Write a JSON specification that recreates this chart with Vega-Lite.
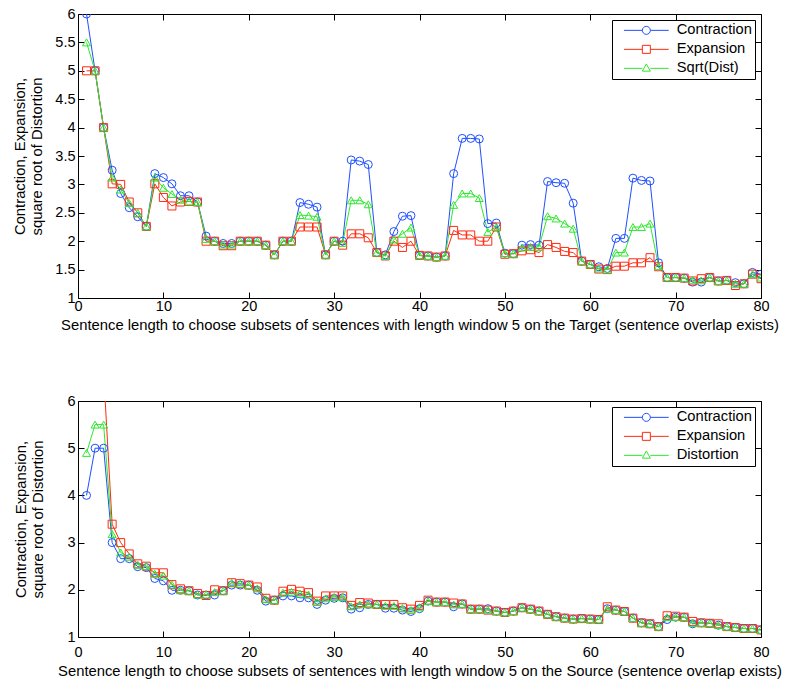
{
  "$schema": "https://vega.github.io/schema/vega-lite/v6.json",
  "background": "white",
  "padding": {"left": 12, "top": 5, "right": 0, "bottom": 0},
  "bounds": "flush",
  "spacing": 103,
  "config": {
    "font": "Liberation Sans",
    "view": {"stroke": "black", "strokeWidth": 1},
    "axis": {
      "grid": false,
      "domain": false,
      "tickColor": "black",
      "tickSize": -6,
      "tickWidth": 1,
      "labelPadding": 9,
      "labelFont": "Liberation Sans",
      "labelFontSize": 14.5,
      "labelColor": "black",
      "labelFlush": false,
      "labelOverlap": false,
      "labelBound": false,
      "titleFont": "Liberation Sans",
      "titleFontSize": 14.8,
      "titleFontWeight": "normal",
      "titleColor": "black",
      "titleLineHeight": 17
    },
    "legend": {
      "orient": "top-right",
      "offset": 6,
      "strokeColor": "black",
      "fillColor": "white",
      "padding": 3,
      "rowPadding": 3,
      "symbolSize": 64,
      "symbolOffset": 24,
      "labelOffset": 23,
      "labelFont": "Liberation Sans",
      "labelFontSize": 14.7,
      "labelColor": "black",
      "title": null
    }
  },
  "resolve": {
    "scale": {"color": "independent", "shape": "independent"},
    "legend": {"color": "independent", "shape": "independent"}
  },
  "vconcat": [
    {
      "width": 683,
      "height": 284,
      "data": {"values": [
        {"x":1,"Contraction":6.0,"Expansion":5.0,"Sqrt(Dist)":5.5},
        {"x":2,"Contraction":5.0,"Expansion":5.0,"Sqrt(Dist)":5.0},
        {"x":3,"Contraction":4.0,"Expansion":4.0,"Sqrt(Dist)":4.0},
        {"x":4,"Contraction":3.25,"Expansion":3.01,"Sqrt(Dist)":3.12},
        {"x":5,"Contraction":2.84,"Expansion":3.0,"Sqrt(Dist)":2.91},
        {"x":6,"Contraction":2.59,"Expansion":2.69,"Sqrt(Dist)":2.67},
        {"x":7,"Contraction":2.43,"Expansion":2.5,"Sqrt(Dist)":2.5},
        {"x":8,"Contraction":2.26,"Expansion":2.26,"Sqrt(Dist)":2.26},
        {"x":9,"Contraction":3.19,"Expansion":3.01,"Sqrt(Dist)":3.12},
        {"x":10,"Contraction":3.12,"Expansion":2.77,"Sqrt(Dist)":2.94},
        {"x":11,"Contraction":3.01,"Expansion":2.62,"Sqrt(Dist)":2.83},
        {"x":12,"Contraction":2.8,"Expansion":2.69,"Sqrt(Dist)":2.73},
        {"x":13,"Contraction":2.8,"Expansion":2.7,"Sqrt(Dist)":2.7},
        {"x":14,"Contraction":2.69,"Expansion":2.69,"Sqrt(Dist)":2.69},
        {"x":15,"Contraction":2.09,"Expansion":2.0,"Sqrt(Dist)":2.04},
        {"x":16,"Contraction":2.0,"Expansion":2.0,"Sqrt(Dist)":2.0},
        {"x":17,"Contraction":1.96,"Expansion":1.92,"Sqrt(Dist)":1.94},
        {"x":18,"Contraction":1.96,"Expansion":1.92,"Sqrt(Dist)":1.94},
        {"x":19,"Contraction":2.0,"Expansion":2.0,"Sqrt(Dist)":2.0},
        {"x":20,"Contraction":2.0,"Expansion":2.0,"Sqrt(Dist)":2.0},
        {"x":21,"Contraction":2.0,"Expansion":2.0,"Sqrt(Dist)":2.0},
        {"x":22,"Contraction":1.93,"Expansion":1.93,"Sqrt(Dist)":1.93},
        {"x":23,"Contraction":1.76,"Expansion":1.76,"Sqrt(Dist)":1.76},
        {"x":24,"Contraction":2.0,"Expansion":2.0,"Sqrt(Dist)":2.0},
        {"x":25,"Contraction":2.0,"Expansion":2.0,"Sqrt(Dist)":2.0},
        {"x":26,"Contraction":2.68,"Expansion":2.25,"Sqrt(Dist)":2.46},
        {"x":27,"Contraction":2.65,"Expansion":2.25,"Sqrt(Dist)":2.45},
        {"x":28,"Contraction":2.6,"Expansion":2.25,"Sqrt(Dist)":2.43},
        {"x":29,"Contraction":1.76,"Expansion":1.76,"Sqrt(Dist)":1.76},
        {"x":30,"Contraction":2.0,"Expansion":2.0,"Sqrt(Dist)":2.0},
        {"x":31,"Contraction":2.0,"Expansion":1.93,"Sqrt(Dist)":1.97},
        {"x":32,"Contraction":3.43,"Expansion":2.13,"Sqrt(Dist)":2.72},
        {"x":33,"Contraction":3.41,"Expansion":2.13,"Sqrt(Dist)":2.72},
        {"x":34,"Contraction":3.35,"Expansion":2.06,"Sqrt(Dist)":2.65},
        {"x":35,"Contraction":1.8,"Expansion":1.8,"Sqrt(Dist)":1.8},
        {"x":36,"Contraction":1.76,"Expansion":1.74,"Sqrt(Dist)":1.74},
        {"x":37,"Contraction":2.17,"Expansion":2.0,"Sqrt(Dist)":2.03},
        {"x":38,"Contraction":2.44,"Expansion":1.89,"Sqrt(Dist)":2.13},
        {"x":39,"Contraction":2.45,"Expansion":2.0,"Sqrt(Dist)":2.24},
        {"x":40,"Contraction":1.75,"Expansion":1.75,"Sqrt(Dist)":1.75},
        {"x":41,"Contraction":1.74,"Expansion":1.74,"Sqrt(Dist)":1.74},
        {"x":42,"Contraction":1.72,"Expansion":1.72,"Sqrt(Dist)":1.72},
        {"x":43,"Contraction":1.74,"Expansion":1.74,"Sqrt(Dist)":1.74},
        {"x":44,"Contraction":3.19,"Expansion":2.19,"Sqrt(Dist)":2.64},
        {"x":45,"Contraction":3.81,"Expansion":2.11,"Sqrt(Dist)":2.84},
        {"x":46,"Contraction":3.81,"Expansion":2.11,"Sqrt(Dist)":2.84},
        {"x":47,"Contraction":3.8,"Expansion":2.0,"Sqrt(Dist)":2.76},
        {"x":48,"Contraction":2.31,"Expansion":2.0,"Sqrt(Dist)":2.16},
        {"x":49,"Contraction":2.32,"Expansion":2.25,"Sqrt(Dist)":2.25},
        {"x":50,"Contraction":1.79,"Expansion":1.77,"Sqrt(Dist)":1.79},
        {"x":51,"Contraction":1.78,"Expansion":1.78,"Sqrt(Dist)":1.78},
        {"x":52,"Contraction":1.93,"Expansion":1.83,"Sqrt(Dist)":1.89},
        {"x":53,"Contraction":1.94,"Expansion":1.85,"Sqrt(Dist)":1.9},
        {"x":54,"Contraction":1.93,"Expansion":1.8,"Sqrt(Dist)":1.9},
        {"x":55,"Contraction":3.05,"Expansion":1.94,"Sqrt(Dist)":2.44},
        {"x":56,"Contraction":3.03,"Expansion":1.89,"Sqrt(Dist)":2.4},
        {"x":57,"Contraction":3.02,"Expansion":1.82,"Sqrt(Dist)":2.31},
        {"x":58,"Contraction":2.67,"Expansion":1.8,"Sqrt(Dist)":2.22},
        {"x":59,"Contraction":1.65,"Expansion":1.65,"Sqrt(Dist)":1.65},
        {"x":60,"Contraction":1.59,"Expansion":1.59,"Sqrt(Dist)":1.59},
        {"x":61,"Contraction":1.55,"Expansion":1.51,"Sqrt(Dist)":1.52},
        {"x":62,"Contraction":1.52,"Expansion":1.5,"Sqrt(Dist)":1.5},
        {"x":63,"Contraction":2.05,"Expansion":1.56,"Sqrt(Dist)":1.8},
        {"x":64,"Contraction":2.05,"Expansion":1.56,"Sqrt(Dist)":1.8},
        {"x":65,"Contraction":3.11,"Expansion":1.62,"Sqrt(Dist)":2.25},
        {"x":66,"Contraction":3.07,"Expansion":1.62,"Sqrt(Dist)":2.25},
        {"x":67,"Contraction":3.06,"Expansion":1.71,"Sqrt(Dist)":2.31},
        {"x":68,"Contraction":1.62,"Expansion":1.55,"Sqrt(Dist)":1.56},
        {"x":69,"Contraction":1.36,"Expansion":1.36,"Sqrt(Dist)":1.36},
        {"x":70,"Contraction":1.36,"Expansion":1.36,"Sqrt(Dist)":1.36},
        {"x":71,"Contraction":1.35,"Expansion":1.35,"Sqrt(Dist)":1.35},
        {"x":72,"Contraction":1.28,"Expansion":1.3,"Sqrt(Dist)":1.32},
        {"x":73,"Contraction":1.28,"Expansion":1.34,"Sqrt(Dist)":1.31},
        {"x":74,"Contraction":1.36,"Expansion":1.36,"Sqrt(Dist)":1.36},
        {"x":75,"Contraction":1.3,"Expansion":1.3,"Sqrt(Dist)":1.3},
        {"x":76,"Contraction":1.31,"Expansion":1.31,"Sqrt(Dist)":1.31},
        {"x":77,"Contraction":1.27,"Expansion":1.22,"Sqrt(Dist)":1.25},
        {"x":78,"Contraction":1.25,"Expansion":1.25,"Sqrt(Dist)":1.25},
        {"x":79,"Contraction":1.45,"Expansion":1.42,"Sqrt(Dist)":1.42},
        {"x":80,"Contraction":1.42,"Expansion":1.34,"Sqrt(Dist)":1.36}
      ]},
      "transform": [{"fold": ["Contraction", "Expansion", "Sqrt(Dist)"], "as": ["series", "value"]}],
      "encoding": {
        "x": {"field": "x", "type": "quantitative", "scale": {"domain": [0, 80], "nice": false, "zero": false}},
        "y": {"field": "value", "type": "quantitative", "scale": {"domain": [1, 6], "nice": false, "zero": false}},
        "color": {
          "field": "series", "type": "nominal",
          "scale": {"domain": ["Contraction", "Expansion", "Sqrt(Dist)"], "range": ["#1f4fff", "#ff2a10", "#2ee82e"]},
          "legend": {
            "title": null,
            "encode": {"symbols": {"update": {
              "shape": {"signal": "datum.value === 'Contraction' ? 'M-5.6,0L-1,0M1,0L5.6,0M-1,0A1,1,0,1,1,1,0A1,1,0,1,1,-1,0Z' : datum.value === 'Expansion' ? 'M-5.6,0L-1,0M1,0L5.6,0M-1,-1L1,-1L1,1L-1,1Z' : 'M-5.6,0L-1,0M1,0L5.6,0M0,-1.1L1,0.7L-1,0.7Z'"},
              "fill": {"value": "transparent"},
              "strokeWidth": {"value": 1},
              "opacity": {"value": 1}
            }}}
          }
        }
      },
      "layer": [
        {
          "mark": {"type": "line", "strokeWidth": 1, "clip": true},
          "encoding": {
            "x": {"field": "x", "type": "quantitative", "axis": {"orient": "bottom", "values": [0,10,20,30,40,50,60,70,80], "labelPadding": 7, "title": "Sentence length to choose subsets of sentences with length window 5 on the Target (sentence overlap exists)", "titlePadding": 5}},
            "y": {"field": "value", "type": "quantitative", "axis": {"orient": "left", "values": [1,1.5,2,2.5,3,3.5,4,4.5,5,5.5,6], "format": "~g", "title": ["Contraction, Expansion,", "square root of Distortion"], "titlePadding": 10}}
          }
        },
        {
          "mark": {"type": "point", "filled": false, "size": 64, "strokeWidth": 1, "opacity": 1, "clip": true},
          "encoding": {
            "shape": {"field": "series", "type": "nominal", "scale": {"domain": ["Expansion", "Contraction", "Sqrt(Dist)"], "range": ["square", "circle", "triangle-up"]}, "legend": null},
            "x": {"field": "x", "type": "quantitative", "axis": {"orient": "top", "values": [0,10,20,30,40,50,60,70,80], "labels": false, "title": null}},
            "y": {"field": "value", "type": "quantitative", "axis": {"orient": "right", "values": [1,1.5,2,2.5,3,3.5,4,4.5,5,5.5,6], "labels": false, "title": null}}
          }
        }
      ],
      "resolve": {"axis": {"x": "independent", "y": "independent"}}
    },
    {
      "width": 683,
      "height": 236,
      "data": {"values": [
        {"x":1,"Contraction":4.0,"Expansion":7.5,"Distortion":4.9},
        {"x":2,"Contraction":5.0,"Expansion":7.2,"Distortion":5.5},
        {"x":3,"Contraction":5.0,"Expansion":6.6,"Distortion":5.5},
        {"x":4,"Contraction":3.0,"Expansion":3.39,"Distortion":3.18},
        {"x":5,"Contraction":2.66,"Expansion":3.0,"Distortion":2.79},
        {"x":6,"Contraction":2.66,"Expansion":2.76,"Distortion":2.7},
        {"x":7,"Contraction":2.49,"Expansion":2.55,"Distortion":2.53},
        {"x":8,"Contraction":2.47,"Expansion":2.5,"Distortion":2.5},
        {"x":9,"Contraction":2.24,"Expansion":2.36,"Distortion":2.34},
        {"x":10,"Contraction":2.19,"Expansion":2.36,"Distortion":2.3},
        {"x":11,"Contraction":1.99,"Expansion":2.11,"Distortion":2.11},
        {"x":12,"Contraction":1.99,"Expansion":2.02,"Distortion":1.99},
        {"x":13,"Contraction":1.98,"Expansion":1.98,"Distortion":1.98},
        {"x":14,"Contraction":1.89,"Expansion":1.92,"Distortion":1.9},
        {"x":15,"Contraction":1.89,"Expansion":1.88,"Distortion":1.9},
        {"x":16,"Contraction":1.89,"Expansion":2.0,"Distortion":1.95},
        {"x":17,"Contraction":1.98,"Expansion":1.98,"Distortion":1.98},
        {"x":18,"Contraction":2.1,"Expansion":2.15,"Distortion":2.15},
        {"x":19,"Contraction":2.1,"Expansion":2.13,"Distortion":2.13},
        {"x":20,"Contraction":2.1,"Expansion":2.1,"Distortion":2.1},
        {"x":21,"Contraction":1.99,"Expansion":2.06,"Distortion":2.03},
        {"x":22,"Contraction":1.76,"Expansion":1.82,"Distortion":1.8},
        {"x":23,"Contraction":1.78,"Expansion":1.78,"Distortion":1.78},
        {"x":24,"Contraction":1.87,"Expansion":1.97,"Distortion":1.94},
        {"x":25,"Contraction":1.87,"Expansion":2.01,"Distortion":1.96},
        {"x":26,"Contraction":1.83,"Expansion":1.97,"Distortion":1.92},
        {"x":27,"Contraction":1.83,"Expansion":1.94,"Distortion":1.9},
        {"x":28,"Contraction":1.69,"Expansion":1.76,"Distortion":1.74},
        {"x":29,"Contraction":1.78,"Expansion":1.87,"Distortion":1.82},
        {"x":30,"Contraction":1.82,"Expansion":1.87,"Distortion":1.85},
        {"x":31,"Contraction":1.83,"Expansion":1.87,"Distortion":1.85},
        {"x":32,"Contraction":1.59,"Expansion":1.67,"Distortion":1.65},
        {"x":33,"Contraction":1.62,"Expansion":1.73,"Distortion":1.69},
        {"x":34,"Contraction":1.69,"Expansion":1.72,"Distortion":1.69},
        {"x":35,"Contraction":1.69,"Expansion":1.69,"Distortion":1.69},
        {"x":36,"Contraction":1.61,"Expansion":1.69,"Distortion":1.66},
        {"x":37,"Contraction":1.61,"Expansion":1.69,"Distortion":1.66},
        {"x":38,"Contraction":1.57,"Expansion":1.62,"Distortion":1.61},
        {"x":39,"Contraction":1.54,"Expansion":1.59,"Distortion":1.57},
        {"x":40,"Contraction":1.6,"Expansion":1.67,"Distortion":1.63},
        {"x":41,"Contraction":1.76,"Expansion":1.78,"Distortion":1.76},
        {"x":42,"Contraction":1.74,"Expansion":1.74,"Distortion":1.74},
        {"x":43,"Contraction":1.74,"Expansion":1.74,"Distortion":1.74},
        {"x":44,"Contraction":1.64,"Expansion":1.72,"Distortion":1.69},
        {"x":45,"Contraction":1.7,"Expansion":1.7,"Distortion":1.7},
        {"x":46,"Contraction":1.59,"Expansion":1.59,"Distortion":1.59},
        {"x":47,"Contraction":1.59,"Expansion":1.59,"Distortion":1.59},
        {"x":48,"Contraction":1.6,"Expansion":1.57,"Distortion":1.58},
        {"x":49,"Contraction":1.55,"Expansion":1.55,"Distortion":1.55},
        {"x":50,"Contraction":1.52,"Expansion":1.52,"Distortion":1.52},
        {"x":51,"Contraction":1.55,"Expansion":1.55,"Distortion":1.55},
        {"x":52,"Contraction":1.62,"Expansion":1.62,"Distortion":1.62},
        {"x":53,"Contraction":1.59,"Expansion":1.59,"Distortion":1.59},
        {"x":54,"Contraction":1.55,"Expansion":1.55,"Distortion":1.55},
        {"x":55,"Contraction":1.48,"Expansion":1.48,"Distortion":1.48},
        {"x":56,"Contraction":1.43,"Expansion":1.43,"Distortion":1.43},
        {"x":57,"Contraction":1.4,"Expansion":1.4,"Distortion":1.4},
        {"x":58,"Contraction":1.38,"Expansion":1.38,"Distortion":1.38},
        {"x":59,"Contraction":1.39,"Expansion":1.39,"Distortion":1.39},
        {"x":60,"Contraction":1.38,"Expansion":1.38,"Distortion":1.38},
        {"x":61,"Contraction":1.37,"Expansion":1.37,"Distortion":1.37},
        {"x":62,"Contraction":1.6,"Expansion":1.64,"Distortion":1.6},
        {"x":63,"Contraction":1.57,"Expansion":1.57,"Distortion":1.57},
        {"x":64,"Contraction":1.54,"Expansion":1.54,"Distortion":1.54},
        {"x":65,"Contraction":1.4,"Expansion":1.4,"Distortion":1.4},
        {"x":66,"Contraction":1.3,"Expansion":1.3,"Distortion":1.3},
        {"x":67,"Contraction":1.28,"Expansion":1.28,"Distortion":1.28},
        {"x":68,"Contraction":1.22,"Expansion":1.22,"Distortion":1.22},
        {"x":69,"Contraction":1.37,"Expansion":1.45,"Distortion":1.42},
        {"x":70,"Contraction":1.42,"Expansion":1.44,"Distortion":1.42},
        {"x":71,"Contraction":1.42,"Expansion":1.42,"Distortion":1.42},
        {"x":72,"Contraction":1.28,"Expansion":1.33,"Distortion":1.3},
        {"x":73,"Contraction":1.3,"Expansion":1.3,"Distortion":1.3},
        {"x":74,"Contraction":1.29,"Expansion":1.29,"Distortion":1.29},
        {"x":75,"Contraction":1.25,"Expansion":1.28,"Distortion":1.25},
        {"x":76,"Contraction":1.22,"Expansion":1.22,"Distortion":1.22},
        {"x":77,"Contraction":1.2,"Expansion":1.2,"Distortion":1.2},
        {"x":78,"Contraction":1.18,"Expansion":1.18,"Distortion":1.18},
        {"x":79,"Contraction":1.18,"Expansion":1.18,"Distortion":1.18},
        {"x":80,"Contraction":1.15,"Expansion":1.15,"Distortion":1.15}
      ]},
      "transform": [{"fold": ["Contraction", "Expansion", "Distortion"], "as": ["series", "value"]}],
      "encoding": {
        "x": {"field": "x", "type": "quantitative", "scale": {"domain": [0, 80], "nice": false, "zero": false}},
        "y": {"field": "value", "type": "quantitative", "scale": {"domain": [1, 6], "nice": false, "zero": false}},
        "color": {
          "field": "series", "type": "nominal",
          "scale": {"domain": ["Contraction", "Expansion", "Distortion"], "range": ["#1f4fff", "#ff2a10", "#2ee82e"]},
          "legend": {
            "title": null,
            "encode": {"symbols": {"update": {
              "shape": {"signal": "datum.value === 'Contraction' ? 'M-5.6,0L-1,0M1,0L5.6,0M-1,0A1,1,0,1,1,1,0A1,1,0,1,1,-1,0Z' : datum.value === 'Expansion' ? 'M-5.6,0L-1,0M1,0L5.6,0M-1,-1L1,-1L1,1L-1,1Z' : 'M-5.6,0L-1,0M1,0L5.6,0M0,-1.1L1,0.7L-1,0.7Z'"},
              "fill": {"value": "transparent"},
              "strokeWidth": {"value": 1},
              "opacity": {"value": 1}
            }}}
          }
        }
      },
      "layer": [
        {
          "mark": {"type": "line", "strokeWidth": 1, "clip": true},
          "encoding": {
            "x": {"field": "x", "type": "quantitative", "axis": {"orient": "bottom", "values": [0,10,20,30,40,50,60,70,80], "labelPadding": 14, "title": "Sentence length to choose subsets of sentences with length window 5 on the Source (sentence overlap exists)", "titlePadding": 5}},
            "y": {"field": "value", "type": "quantitative", "axis": {"orient": "left", "values": [1,2,3,4,5,6], "format": "~g", "title": ["Contraction, Expansion,", "square root of Distortion"], "titlePadding": 21}}
          }
        },
        {
          "mark": {"type": "point", "filled": false, "size": 64, "strokeWidth": 1, "opacity": 1, "clip": true},
          "encoding": {
            "shape": {"field": "series", "type": "nominal", "scale": {"domain": ["Expansion", "Contraction", "Distortion"], "range": ["square", "circle", "triangle-up"]}, "legend": null},
            "x": {"field": "x", "type": "quantitative", "axis": {"orient": "top", "values": [0,10,20,30,40,50,60,70,80], "labels": false, "title": null}},
            "y": {"field": "value", "type": "quantitative", "axis": {"orient": "right", "values": [1,2,3,4,5,6], "labels": false, "title": null}}
          }
        }
      ],
      "resolve": {"axis": {"x": "independent", "y": "independent"}}
    }
  ]
}
